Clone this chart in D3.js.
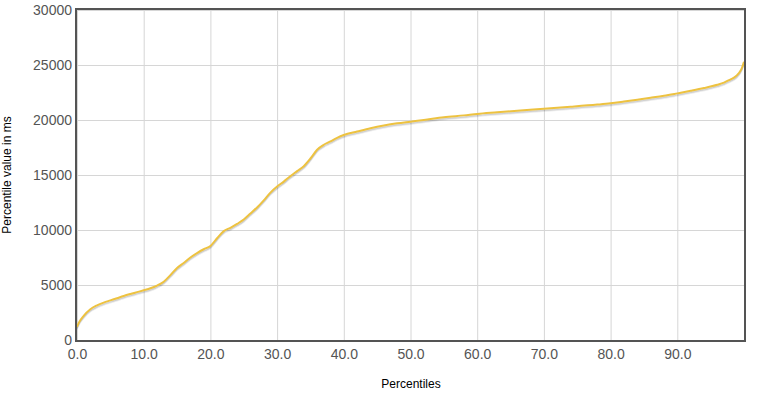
<!DOCTYPE html>
<html>
<head>
<meta charset="utf-8">
<script src="https://cdn.jsdelivr.net/npm/d3@7"></script>
<style>
  body { margin: 0; background: #fff; }
  svg { display: block; font-family: "Liberation Sans", Arial, sans-serif; }
</style>
</head>
<body>
<svg id="chart"></svg>
<script>
// percentile (x) and value in ms (y)
const percentiles = [0, 0.3, 1, 2, 3, 4, 5, 6, 7, 8, 9, 10, 11, 12, 13, 14, 15, 16, 17, 18, 19, 20,
  21, 22, 23, 24, 25, 26, 27, 28, 29, 30, 31, 32, 33, 34, 35, 36, 37, 38, 39, 40, 42, 44, 46, 48,
  50, 52, 55, 58, 60, 63, 66, 70, 74, 78, 80, 82, 84, 86, 88, 90, 92, 94, 96, 97, 98, 98.5, 99,
  99.4, 99.7, 99.9, 100];
const values = [1200, 1600, 2200, 2800, 3150, 3400, 3600, 3800, 4000, 4180, 4350, 4520, 4700, 4950,
  5300, 5900, 6550, 7000, 7500, 7900, 8250, 8550, 9250, 9900, 10200, 10550, 10950, 11500, 12050,
  12700, 13400, 13950, 14400, 14900, 15350, 15800, 16500, 17300, 17750, 18050, 18380, 18640, 18950,
  19250, 19500, 19700, 19850, 20000, 20250, 20420, 20550, 20700, 20850, 21020, 21200, 21400, 21520,
  21680, 21850, 22020, 22200, 22420, 22650, 22900, 23200, 23400, 23700, 23850, 24100, 24400, 24750,
  25100, 25300];
const xTicks = [0, 10, 20, 30, 40, 50, 60, 70, 80, 90];
const yTicks = [0, 5000, 10000, 15000, 20000, 25000, 30000];

const W = 761, H = 400;
const margin = { top: 10, right: 17, bottom: 60, left: 77 };

const svg = d3.select("#chart").attr("width", W).attr("height", H);

const x = d3.scaleLinear().domain([0, 100]).range([margin.left, W - margin.right]);
const y = d3.scaleLinear().domain([0, 30000]).range([H - margin.bottom, margin.top]);

// grid
svg.append("g")
  .attr("transform", `translate(0,${H - margin.bottom})`)
  .call(d3.axisBottom(x).tickValues(xTicks).tickSize(-(H - margin.bottom - margin.top)).tickFormat(""))
  .call(g => g.select(".domain").remove())
  .call(g => g.selectAll("line").attr("stroke", "#d6d6d6"));
svg.append("g")
  .attr("transform", `translate(${margin.left},0)`)
  .call(d3.axisLeft(y).tickValues(yTicks).tickSize(-(W - margin.right - margin.left)).tickFormat(""))
  .call(g => g.select(".domain").remove())
  .call(g => g.selectAll("line").attr("stroke", "#d6d6d6"));

// tick labels
svg.append("g")
  .attr("transform", `translate(0,${H - margin.bottom})`)
  .call(d3.axisBottom(x).tickValues(xTicks).tickSize(0).tickPadding(9).tickFormat(d3.format(".1f")))
  .call(g => g.select(".domain").remove())
  .call(g => g.selectAll("text").attr("fill", "#545454").style("font-size", "14px")
    .style("font-family", "Liberation Sans, Arial, sans-serif"));
svg.append("g")
  .attr("transform", `translate(${margin.left},0)`)
  .call(d3.axisLeft(y).tickValues(yTicks).tickSize(0).tickPadding(5).tickFormat(d3.format("d")))
  .call(g => g.select(".domain").remove())
  .call(g => g.selectAll("text").attr("fill", "#545454").style("font-size", "14px")
    .style("font-family", "Liberation Sans, Arial, sans-serif"));

const data = percentiles.map((p, i) => ({ p: p, v: values[i] }));
const line = d3.line().x(d => x(d.p)).y(d => y(d.v)).curve(d3.curveMonotoneX);

// shadow like flot
svg.append("path").datum(data).attr("d", line)
  .attr("transform", "translate(0,2.5)")
  .attr("fill", "none").attr("stroke", "rgba(0,0,0,0.08)").attr("stroke-width", 1.5);
svg.append("path").datum(data).attr("d", line)
  .attr("transform", "translate(0,1.5)")
  .attr("fill", "none").attr("stroke", "rgba(0,0,0,0.15)").attr("stroke-width", 1.5);
svg.append("path").datum(data).attr("d", line)
  .attr("fill", "none").attr("stroke", "#edc240").attr("stroke-width", 2)
  .attr("stroke-linejoin", "round");

// border
svg.append("rect")
  .attr("x", margin.left - 1).attr("y", margin.top - 1)
  .attr("width", W - margin.right - margin.left + 2).attr("height", H - margin.bottom - margin.top + 2)
  .attr("fill", "none").attr("stroke", "#545454").attr("stroke-width", 2);

// axis titles
svg.append("text")
  .attr("x", 411).attr("y", 388)
  .attr("text-anchor", "middle").style("font-size", "12px").attr("fill", "#000")
  .text("Percentiles");
svg.append("text")
  .attr("transform", "translate(11,175) rotate(-90)")
  .attr("text-anchor", "middle").style("font-size", "12px").attr("fill", "#000")
  .text("Percentile value in ms");
</script>
</body>
</html>
